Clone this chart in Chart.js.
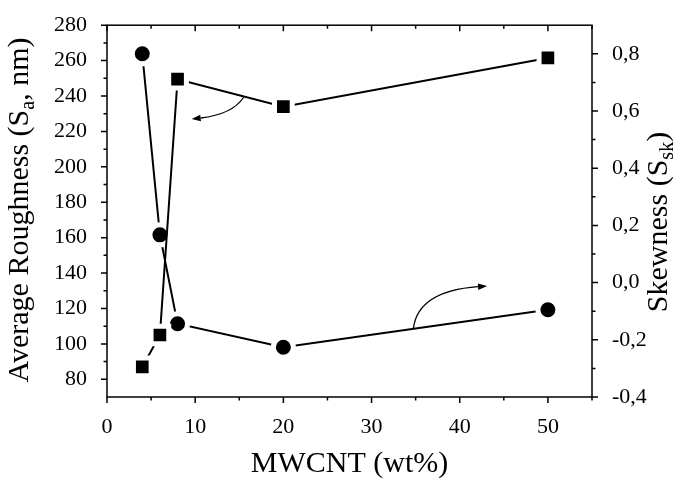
<!DOCTYPE html>
<html>
<head>
<meta charset="utf-8">
<script src="https://cdn.jsdelivr.net/npm/chart.js@4.4.0/dist/chart.umd.min.js"></script>
<style>
    body { margin: 0; background: #fff; }
    #contenedor { width: 685px; height: 482px; position: relative; }
</style>
</head>
<body>
<div id="contenedor"><canvas id="graficoRugosidad"></canvas></div>
<script>
// Datos
const mwcnt = [4, 6, 8, 20, 50];
const rugosidadSa = [87, 105, 249.5, 234, 261.5];
const asimetriaSsk = [0.80, 0.167, -0.144, -0.226, -0.095];

const ticksX = [0, 10, 20, 30, 40, 50];
const ticksIzq = [80, 100, 120, 140, 160, 180, 200, 220, 240, 260, 280];
const ticksDer = [-0.4, -0.2, 0.0, 0.2, 0.4, 0.6, 0.8];
const etiquetasDer = ['-0,4', '-0,2', '0,0', '0,2', '0,4', '0,6', '0,8'];

// Flechas curvas (en unidades de datos): inicio, control, punta
const flechas = [
    { eje: 'y', desde: [15.5, 239.3], control: [14.2, 229.6], hasta: [9.6, 227.0] },
    { eje: 'y1', desde: [34.75, -0.159], control: [35.3, -0.03], hasta: [43.1, -0.012] }
];

const FUENTE = '"Liberation Serif", "Times New Roman", serif';

function medios(valores, extra) {
    const res = [];
    for (let i = 0; i < valores.length - 1; i++) res.push((valores[i] + valores[i + 1]) / 2);
    if (extra !== undefined) res.push(extra);
    return res;
}

// Marco, ticks mayores y menores
const ejesPlugin = {
    id: 'ejes',
    afterDraw(chart) {
        const ctx = chart.ctx;
        const a = chart.chartArea;
        const sx = chart.scales.x, sy = chart.scales.y, sy1 = chart.scales.y1;
        ctx.save();
        ctx.strokeStyle = '#000';
        ctx.lineWidth = 1.5;
        ctx.strokeRect(a.left, a.top, a.right - a.left, a.bottom - a.top);

        const mayor = 6, menor = 3.5;
        ctx.beginPath();
        ticksX.forEach(v => {
            const x = sx.getPixelForValue(v);
            ctx.moveTo(x, a.bottom); ctx.lineTo(x, a.bottom + mayor);
            ctx.moveTo(x, a.top); ctx.lineTo(x, a.top + mayor);
        });
        medios(ticksX, 55).forEach(v => {
            const x = sx.getPixelForValue(v);
            ctx.moveTo(x, a.bottom); ctx.lineTo(x, a.bottom + menor);
            ctx.moveTo(x, a.top); ctx.lineTo(x, a.top + menor);
        });
        ticksIzq.forEach(v => {
            const y = sy.getPixelForValue(v);
            ctx.moveTo(a.left, y); ctx.lineTo(a.left - mayor, y);
        });
        medios(ticksIzq).forEach(v => {
            const y = sy.getPixelForValue(v);
            ctx.moveTo(a.left, y); ctx.lineTo(a.left - menor, y);
        });
        ticksDer.forEach(v => {
            const y = sy1.getPixelForValue(v);
            ctx.moveTo(a.right, y); ctx.lineTo(a.right + mayor, y);
        });
        medios(ticksDer).forEach(v => {
            const y = sy1.getPixelForValue(v);
            ctx.moveTo(a.right, y); ctx.lineTo(a.right + menor, y);
        });
        ctx.stroke();

        // flechas
        ctx.lineWidth = 1.3;
        ctx.fillStyle = '#000';
        flechas.forEach(f => {
            const ey = chart.scales[f.eje];
            const p0 = [sx.getPixelForValue(f.desde[0]), ey.getPixelForValue(f.desde[1])];
            const pc = [sx.getPixelForValue(f.control[0]), ey.getPixelForValue(f.control[1])];
            const p1 = [sx.getPixelForValue(f.hasta[0]), ey.getPixelForValue(f.hasta[1])];
            const ang = Math.atan2(p1[1] - pc[1], p1[0] - pc[0]);
            const largo = 9, ancho = 3.2;
            const base = [p1[0] - largo * Math.cos(ang), p1[1] - largo * Math.sin(ang)];
            ctx.beginPath();
            ctx.moveTo(p0[0], p0[1]);
            ctx.quadraticCurveTo(pc[0], pc[1], base[0], base[1]);
            ctx.stroke();
            ctx.beginPath();
            ctx.moveTo(p1[0], p1[1]);
            ctx.lineTo(base[0] - ancho * Math.sin(ang), base[1] + ancho * Math.cos(ang));
            ctx.lineTo(base[0] + ancho * Math.sin(ang), base[1] - ancho * Math.cos(ang));
            ctx.closePath();
            ctx.fill();
        });

        // títulos de los ejes con subíndices
        const centroX = (a.left + a.right) / 2;
        textoConSubindice(ctx, [{ t: 'MWCNT (wt%)' }], centroX, 472, 0, 30);
        textoConSubindice(ctx, [{ t: 'Average Roughness (S' }, { t: 'a', sub: true }, { t: ', nm)' }],
            28, 210, -Math.PI / 2, 30);
        textoConSubindice(ctx, [{ t: 'Skewness (S' }, { t: 'sk', sub: true }, { t: ')' }],
            667, 222, -Math.PI / 2, 30);
        ctx.restore();
    }
};

function textoConSubindice(ctx, partes, x, y, angulo, tam) {
    const normal = tam + 'px ' + FUENTE;
    const chica = Math.round(tam * 0.65) + 'px ' + FUENTE;
    ctx.save();
    ctx.translate(x, y);
    ctx.rotate(angulo);
    ctx.fillStyle = '#000';
    ctx.textAlign = 'left';
    ctx.textBaseline = 'alphabetic';
    let total = 0;
    partes.forEach(p => {
        ctx.font = p.sub ? chica : normal;
        p.w = ctx.measureText(p.t).width;
        total += p.w;
    });
    let cx = -total / 2;
    partes.forEach(p => {
        ctx.font = p.sub ? chica : normal;
        ctx.fillText(p.t, cx, p.sub ? tam * 0.2 : 0);
        cx += p.w;
    });
    ctx.restore();
}

function crearGrafico() {
    const ctx = document.getElementById('graficoRugosidad').getContext('2d');
    const fuenteTicks = { family: FUENTE, size: 22 };
    new Chart(ctx, {
        type: 'line',
        data: {
            datasets: [{
                label: 'Sa',
                data: mwcnt.map((x, i) => ({ x: x, y: rugosidadSa[i] })),
                yAxisID: 'y',
                borderColor: '#000',
                borderWidth: 2,
                pointStyle: 'rect',
                pointRadius: 12.5,
                pointBackgroundColor: '#000',
                pointBorderColor: '#fff',
                pointBorderWidth: 5
            }, {
                label: 'Ssk',
                data: mwcnt.map((x, i) => ({ x: x, y: asimetriaSsk[i] })),
                yAxisID: 'y1',
                borderColor: '#000',
                borderWidth: 2,
                pointStyle: 'circle',
                pointRadius: 10,
                pointBackgroundColor: '#000',
                pointBorderColor: '#fff',
                pointBorderWidth: 5
            }]
        },
        options: {
            responsive: true,
            maintainAspectRatio: false,
            animation: false,
            layout: { padding: { top: 14, left: 0, right: 0, bottom: 0 } },
            plugins: {
                legend: { display: false },
                tooltip: { enabled: false }
            },
            scales: {
                x: {
                    type: 'linear',
                    min: 0,
                    max: 55,
                    grid: { display: false },
                    border: { display: false },
                    afterBuildTicks: s => { s.ticks = ticksX.map(v => ({ value: v })); },
                    afterFit: s => { s.height = 85; },
                    ticks: { font: fuenteTicks, color: '#000', padding: 9, maxRotation: 0 }
                },
                y: {
                    position: 'left',
                    min: 70,
                    max: 280,
                    grid: { display: false },
                    border: { display: false },
                    afterBuildTicks: s => { s.ticks = ticksIzq.map(v => ({ value: v })); },
                    afterFit: s => { s.width = 107; },
                    ticks: { font: fuenteTicks, color: '#000', padding: 12 }
                },
                y1: {
                    position: 'right',
                    min: -0.4,
                    max: 0.9,
                    grid: { display: false },
                    border: { display: false },
                    afterBuildTicks: s => { s.ticks = ticksDer.map(v => ({ value: v })); },
                    afterFit: s => { s.width = 93; },
                    ticks: {
                        font: fuenteTicks,
                        color: '#000',
                        padding: 12,
                        callback: v => {
                            const i = ticksDer.findIndex(t => Math.abs(t - v) < 1e-6);
                            return i >= 0 ? etiquetasDer[i] : '';
                        }
                    }
                }
            }
        },
        plugins: [ejesPlugin]
    });
}

document.addEventListener('DOMContentLoaded', crearGrafico);
</script>
</body>
</html>
